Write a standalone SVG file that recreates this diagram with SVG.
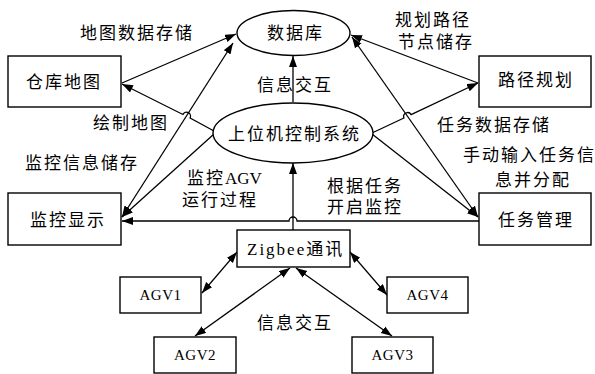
<svg xmlns="http://www.w3.org/2000/svg" width="595" height="374" viewBox="0 0 595 374">
<style>
.n{fill:#fff;stroke:#000;stroke-width:1.4}
.c{fill:none;stroke:#000;stroke-width:1.3}
text{font-family:"Liberation Serif","Noto Sans CJK SC",serif;font-size:17px;letter-spacing:2px;fill:#000}
.agv{font-size:15px;letter-spacing:0.5px;text-anchor:middle}
</style>
<defs>
<marker id="ah" markerUnits="userSpaceOnUse" markerWidth="12" markerHeight="10" refX="11" refY="4" orient="auto-start-reverse">
<path d="M0,0 L11,4 L0,8 z" fill="#000"/>
</marker>
</defs>
<rect width="595" height="374" fill="#fff"/>
<g id="connectors">
<path class="c" d="M122,83 L236,34" marker-end="url(#ah)"/>
<path class="c" d="M233,43 L122,217" marker-start="url(#ah)" marker-end="url(#ah)"/>
<path class="c" d="M214,131 L190.1,118.1 A4,4 0 0 0 182.9,114.5 L122,84" marker-end="url(#ah)"/>
<path class="c" d="M214,134 L122,217" marker-end="url(#ah)"/>
<path class="c" d="M478,83 L351,35" marker-end="url(#ah)"/>
<path class="c" d="M352,37 L478,217" marker-start="url(#ah)" marker-end="url(#ah)"/>
<path class="c" d="M372,133 L403.9,118 A4,4 0 0 1 411.1,114.6 L478,83" marker-end="url(#ah)"/>
<path class="c" d="M372,134 L478,217" marker-end="url(#ah)"/>
<path class="c" d="M293,102 L293,56" marker-end="url(#ah)"/>
<path class="c" d="M293,230 L293,163" marker-end="url(#ah)"/>
<path class="c" d="M479,221 L297,221 A4,4 0 0 0 289,221 L122,221" marker-end="url(#ah)"/>
<path class="c" d="M237,252 L202,293" marker-start="url(#ah)" marker-end="url(#ah)"/>
<path class="c" d="M290,268 L195,336" marker-start="url(#ah)" marker-end="url(#ah)"/>
<path class="c" d="M350,252 L387,295" marker-start="url(#ah)" marker-end="url(#ah)"/>
<path class="c" d="M296,268 L392,336" marker-start="url(#ah)" marker-end="url(#ah)"/>
</g>
<g id="db"><ellipse class="n" cx="293.5" cy="33" rx="56.5" ry="22.5"/><text x="267" y="39">数据库</text></g>
<g id="host"><ellipse class="n" cx="293" cy="133" rx="80" ry="30"/><text x="228" y="140">上位机控制系统</text></g>
<g id="map"><rect class="n" x="8" y="56" width="113" height="51"/><text x="26" y="88">仓库地图</text></g>
<g id="path"><rect class="n" x="479" y="56" width="112" height="51"/><text x="498" y="86">路径规划</text></g>
<g id="monitor"><rect class="n" x="8" y="193" width="113" height="52"/><text x="30" y="226">监控显示</text></g>
<g id="task"><rect class="n" x="479" y="193" width="112" height="52"/><text x="498" y="226">任务管理</text></g>
<g id="zigbee"><rect class="n" x="237" y="230" width="113" height="37"/><text x="247" y="255">Zigbee通讯</text></g>
<g id="agv1"><rect class="n" x="120" y="277" width="81" height="36"/><text class="agv" x="160.5" y="300">AGV1</text></g>
<g id="agv2"><rect class="n" x="154" y="337" width="82" height="36"/><text class="agv" x="195" y="360">AGV2</text></g>
<g id="agv3"><rect class="n" x="352" y="337" width="81" height="36"/><text class="agv" x="392.5" y="360">AGV3</text></g>
<g id="agv4"><rect class="n" x="387" y="277" width="81" height="36"/><text class="agv" x="427.5" y="300">AGV4</text></g>
<g id="labels">
<text x="80" y="39">地图数据存储</text>
<text x="395" y="26">规划路径</text>
<text x="398" y="48">节点储存</text>
<text x="257" y="91">信息交互</text>
<text x="93" y="129">绘制地图</text>
<text x="437" y="131">任务数据存储</text>
<text x="25" y="169">监控信息储存</text>
<text x="463" y="161" letter-spacing="1">手动输入任务信</text>
<text x="495" y="186">息并分配</text>
<text x="187" y="184">监控<tspan letter-spacing="0">AGV</tspan></text>
<text x="182" y="206">运行过程</text>
<text x="327" y="192">根据任务</text>
<text x="327" y="213">开启监控</text>
<text x="257" y="329">信息交互</text>
</g>
</svg>
